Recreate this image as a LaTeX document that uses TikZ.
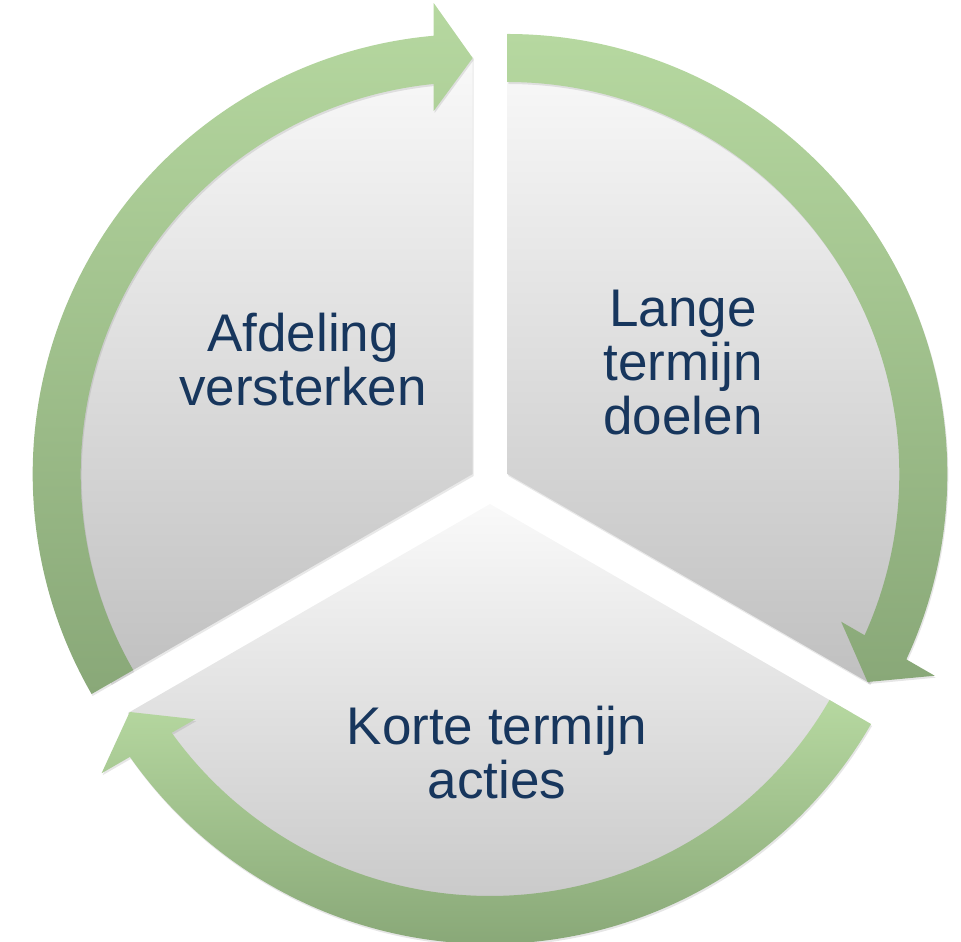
\documentclass[tikz,border=0pt]{standalone}
\usepackage{fontspec}
\setmainfont{Liberation Sans}
\usepackage{xcolor}
\usepackage{tikz}
\usetikzlibrary{calc,shadows}
\definecolor{navy}{RGB}{23,54,93}
\definecolor{greenlight}{RGB}{182,216,160}
\definecolor{greendark}{RGB}{137,168,120}
\definecolor{graylight}{RGB}{249,249,249}
\definecolor{graydark}{RGB}{192,192,192}
\tikzset{
  segment/.style={top color=graylight, bottom color=graydark,
    drop shadow={opacity=.18, shadow xshift=1pt, shadow yshift=-2pt}},
  band/.style={top color=greenlight, bottom color=greendark,
    drop shadow={opacity=.2, shadow xshift=1pt, shadow yshift=-2pt}},
  lbl/.style={text=navy, align=center, font=\fontsize{53}{54}\selectfont}
}

\begin{document}
\begin{tikzpicture}[x=1pt, y=1pt]
\useasboundingbox (0,0) rectangle (961,942);
\coordinate (c) at (490,458);
\coordinate (l) at ($(c)+(150:20)$);
\coordinate (r) at ($(c)+(30:20)$);
\coordinate (b) at ($(c)+(270:20)$);
\foreach \p/\a in {l/90, r/-30, b/210} {
 \shade[segment] (\p) -- ($(\p)+(\a:418)$) arc[start angle=\a, end angle=\a+120, radius=418] -- cycle;
}
\foreach \p/\a in {l/90, r/-30, b/210} {
 \shade[band] ($(\p)+(\a+120:392)$) -- ($(\p)+(\a+120:440)$)
   arc[start angle=\a+120, end angle=\a+5.08, radius=440]
   -- ($(\p)+(\a+4.73:472.6)$) -- ($(\p)+(\a:416)$) -- ($(\p)+(\a+6.13:365.1)$)
   -- ($(\p)+(\a+5.71:392)$) arc[start angle=\a+5.71, end angle=\a+120, radius=392] -- cycle;
}
\node[lbl] (afdeling) at (303,582) {Afdeling\\versterken};
\node[lbl] (lange) at (683,579) {Lange\\termijn\\doelen};
\node[lbl] (korte) at (497,189) {Korte termijn\\acties};
\end{tikzpicture}
\end{document}
